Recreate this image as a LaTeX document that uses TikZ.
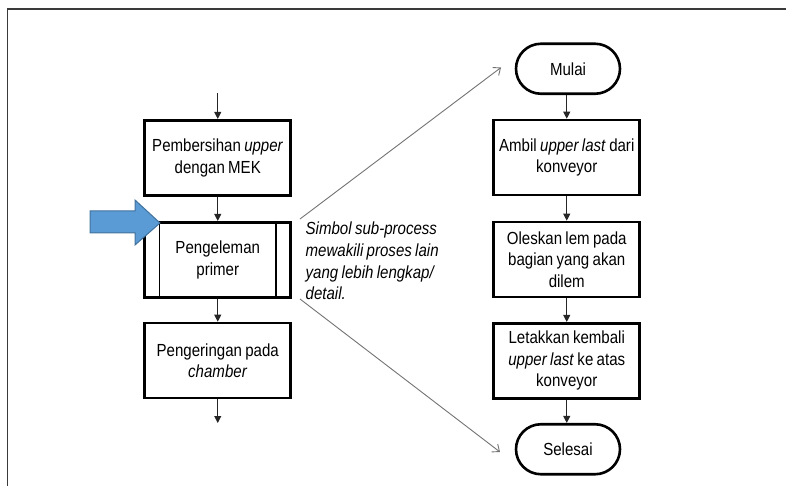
\documentclass[tikz,border=0pt]{standalone}
\usepackage{fontspec}
\setmainfont[FakeStretch=0.86,WordSpace=0.8]{Liberation Sans}
\usetikzlibrary{arrows.meta,calc}
\definecolor{bluefill}{HTML}{5B9BD5}
\definecolor{blueedge}{HTML}{41719C}
\definecolor{frameline}{HTML}{3A3A3A}
\tikzset{
  procbox/.style={draw=black, line width=2.6bp, minimum width=146bp, minimum height=75bp,
    inner sep=0pt, align=center, font=\fontsize{17.5bp}{21.5bp}\selectfont},
  termbox/.style={draw=black, line width=2.6bp, rounded corners=25bp, minimum width=104bp,
    minimum height=50bp, inner sep=0pt, align=center, font=\fontsize{17.5bp}{21.5bp}\selectfont},
  flow/.style={draw=black!85, line width=1bp, -{Triangle[length=7bp,width=7bp]}},
  callout/.style={draw=black!55, line width=0.9bp, -{Straight Barb[length=6bp,width=10bp]}},
  note/.style={font=\fontsize{17.5bp}{21.5bp}\selectfont\itshape, align=left, inner sep=0pt}
}
\begin{document}
\begin{tikzpicture}[x=1bp,y=-1bp]
\useasboundingbox (0,0) rectangle (786,486);
% frame
\draw[frameline, line width=1.6bp] (7.5,486) -- (7.5,9) -- (786,9);

% left column
\node[procbox] (b1) at (217.75,157.75) {Pembersihan \textit{upper}\\dengan MEK};
\node[procbox] (b2) at (217.75,259.75) {Pengeleman\\primer};
\node[procbox] (b3) at (217.75,360.5) {Pengeringan pada\\\textit{chamber}};
\draw[line width=1.2bp] ([xshift=16bp]b2.north west) -- ([xshift=16bp]b2.south west);
\draw[line width=1.2bp] ([xshift=-16bp]b2.north east) -- ([xshift=-16bp]b2.south east);
\coordinate (lin) at (217.75,93);
\coordinate (lout) at (217.75,423);
\draw[flow] (lin) -- (b1.north);
\draw[flow] (b1.south) -- (b2.north);
\draw[flow] (b2.south) -- (b3.north);
\draw[flow] (b3.south) -- (lout);

% blue arrow
\draw[fill=bluefill, draw=blueedge, line width=1bp]
  (90,211) -- (135,211) -- (135,200) -- (160,223) -- (135,245) -- (135,233) -- (90,233) -- cycle;

% right column
\node[termbox] (t1) at (568,68.75) {Mulai};
\node[procbox] (r1) at (566.75,157.5) {Ambil \textit{upper last} dari\\konveyor};
\node[procbox] (r2) at (566.75,259.5) {Oleskan lem pada\\bagian yang akan\\dilem};
\node[procbox] (r3) at (566.75,360.75) {Letakkan kembali\\\textit{upper last} ke atas\\konveyor};
\node[termbox] (t2) at (568,449.25) {Selesai};
\draw[flow] (t1.south -| r1.north) -- (r1.north);
\draw[flow] (r1.south) -- (r2.north);
\draw[flow] (r2.south) -- (r3.north);
\draw[flow] (r3.south) -- (t2.north -| r3.south);

% note and callout lines
\node[note, anchor=west] (n1) at (305.5,261) {Simbol sub-process\\mewakili proses lain\\yang lebih lengkap/\\detail.};
\coordinate (c1) at (300,219);
\coordinate (c2) at (501,67.5);
\coordinate (c3) at (300,299);
\coordinate (c4) at (500,452);
\draw[callout] (c1) -- (c2);
\draw[callout] (c3) -- (c4);
\end{tikzpicture}
\end{document}
